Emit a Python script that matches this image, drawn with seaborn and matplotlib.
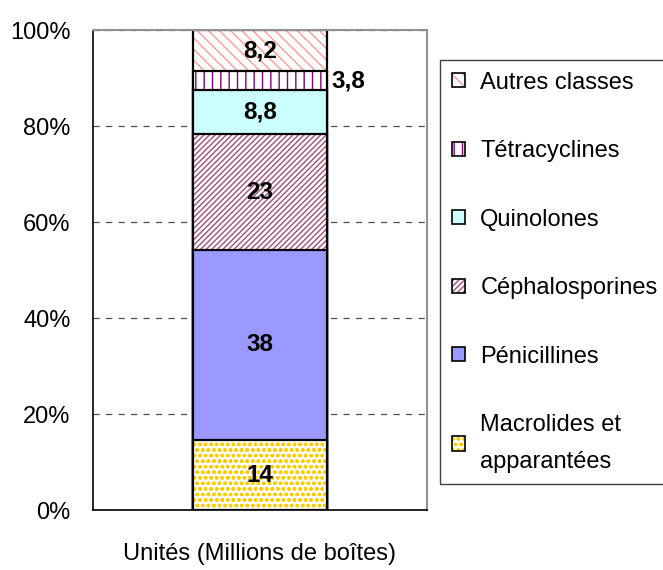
import numpy as np
import matplotlib.pyplot as plt
import seaborn as sns
from matplotlib.patches import Patch

categorie = ["Unités (Millions de boîtes)"]
classes = ["Macrolides et\napparantées", "Pénicillines", "Céphalosporines",
           "Quinolones", "Tétracyclines", "Autres classes"]
valeurs = [14, 38, 23, 8.8, 3.8, 8.2]
etiquettes = ["14", "38", "23", "8,8", "3,8", "8,2"]

# styles des segments
fonds = ["white", "#9999FF", "white", "#CCFFFF", "white", "white"]
couleurs_motif = ["#FFCC00", "#9999FF", "#A0507A", "#CCFFFF", "#800080", "#FF9999"]
motifs = ["ooo", "", "//////", "", "||", "\\\\\\"]

sns.set_theme(style="white")
plt.rcParams["font.family"] = ["Liberation Sans", "DejaVu Sans"]
plt.rcParams["hatch.linewidth"] = 1.0

pourcent = np.array(valeurs) / sum(valeurs) * 100
cumul = np.cumsum(pourcent)

fig = plt.figure(figsize=(6.63, 5.70), dpi=100)
ax = fig.add_axes([0.140, 0.105, 0.504, 0.842])

# barres empilées : de la plus haute à la plus basse, chacune recouvre la suivante
for i in range(len(classes) - 1, -1, -1):
    sns.barplot(x=categorie, y=[cumul[i]], color=fonds[i], saturation=1,
                width=0.4, hatch=motifs[i], edgecolor=couleurs_motif[i],
                linewidth=0, ax=ax)
    sns.barplot(x=categorie, y=[cumul[i]], color="black", fill=False,
                width=0.4, linewidth=1.6, ax=ax)

# étiquettes
bas = np.concatenate([[0], cumul[:-1]])
for i, txt in enumerate(etiquettes):
    y = (bas[i] + cumul[i]) / 2
    x = 0.265 if classes[i] == "Tétracyclines" else 0
    ax.text(x, y, txt, ha="center", va="center", fontsize=17.5,
            fontweight="bold", color="black")

ax.set_xlim(-0.5, 0.5)
ax.set_ylim(0, 100)
ax.set_yticks([0, 20, 40, 60, 80, 100])
ax.set_yticklabels(["0%", "20%", "40%", "60%", "80%", "100%"], fontsize=17, color="black")
ax.set_xticks([-0.5, 0.5])
ax.set_xticklabels(["", ""])
ax.set_xlabel(categorie[0], fontsize=17, color="black", labelpad=12)
ax.set_ylabel("")
ax.tick_params(axis="y", direction="out", length=7, width=1, color="black", pad=9)
ax.tick_params(axis="x", direction="out", length=8, width=1, color="black")

ax.yaxis.grid(True, linestyle=(0, (5, 5)), color="#505050", linewidth=0.9)
ax.set_axisbelow(True)
for cote in ["left", "bottom"]:
    ax.spines[cote].set_color("black")
    ax.spines[cote].set_linewidth(1.2)
for cote in ["top", "right"]:
    ax.spines[cote].set_color("#909090")
    ax.spines[cote].set_linewidth(1.5)

# légende
poignees = []
for i in range(len(classes)):
    poignees.append((Patch(facecolor=fonds[i], edgecolor=couleurs_motif[i], hatch=motifs[i], linewidth=0),
                     Patch(fill=False, edgecolor="black", linewidth=1.2)))
leg = fig.legend(poignees[::-1], classes[::-1], loc="upper left",
                 bbox_to_anchor=(0.664, 0.895), fontsize=17, frameon=True,
                 fancybox=False, edgecolor="#404040", framealpha=1,
                 handlelength=0.55, handleheight=0.55, handletextpad=0.65,
                 labelspacing=1.97, borderpad=0.5, borderaxespad=0)
leg.get_frame().set_linewidth(1.0)
for t in leg.get_texts():
    t.set_linespacing(1.85)
    t.set_color("black")

plt.savefig("out.png", dpi=100)
